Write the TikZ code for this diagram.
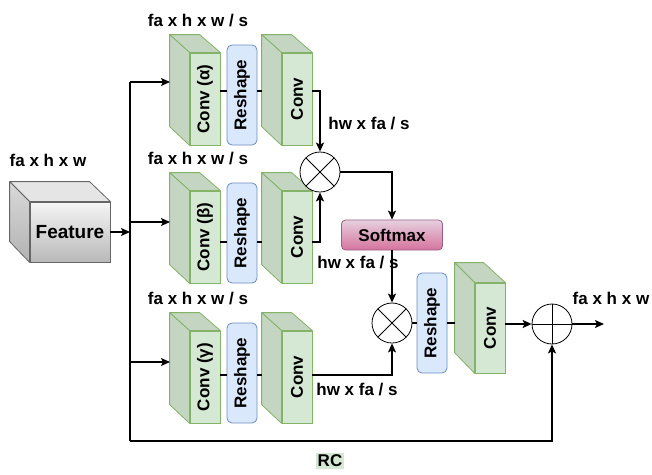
\documentclass[tikz,border=0pt]{standalone}
\usepackage{fontspec}
\setmainfont{Liberation Sans}
\usepackage{graphicx}
\usetikzlibrary{arrows.meta}

\definecolor{convfill}{HTML}{D5E8D4}
\definecolor{convdark}{HTML}{C4D6C2}
\definecolor{convline}{HTML}{82B366}
\definecolor{reshfill}{HTML}{DAE8FC}
\definecolor{reshline}{HTML}{6C8EBF}
\definecolor{smtop}{HTML}{E6D0DE}
\definecolor{smbot}{HTML}{D5739D}
\definecolor{smline}{HTML}{996185}
\definecolor{featline}{HTML}{666666}

\begin{document}
\begin{tikzpicture}[x=1pt,y=-1pt,
    every node/.style={font=\fontsize{17}{20}\selectfont\bfseries},
    arr/.style={-{Stealth[length=9pt,width=8pt,inset=2pt]},line width=1.3pt},
    link/.style={line width=1.3pt},
    convfront/.style={draw=convline,fill=convfill,line width=0.8pt,minimum width=30pt,minimum height=92pt,inner sep=0pt},
    convside/.style={draw=convline,fill=convdark,line width=0.8pt,line join=round},
    reshape/.style={draw=reshline,fill=reshfill,rounded corners=5pt,line width=0.8pt,minimum width=30pt,minimum height=100pt,inner sep=0pt},
    softbox/.style={draw=smline,top color=smtop,bottom color=smbot,rounded corners=4pt,line width=0.8pt,minimum width=101pt,minimum height=30pt},
    featbox/.style={draw=featline,top color=gray!8,bottom color=gray!55,line width=0.8pt,minimum width=80pt,minimum height=60pt,font=\fontsize{19}{22}\selectfont\bfseries},
    featside/.style={draw=featline,line width=0.8pt,line join=round},
    mult/.style={circle,draw,fill=white,line width=0.8pt,minimum size=40pt,inner sep=0pt,
      path picture={\draw[line width=0.8pt] (path picture bounding box.north west) -- (path picture bounding box.south east)
        (path picture bounding box.north east) -- (path picture bounding box.south west);}},
    addc/.style={circle,draw,fill=white,line width=0.8pt,minimum size=40pt,inner sep=0pt,
      path picture={\draw[line width=0.8pt] (path picture bounding box.north) -- (path picture bounding box.south)
        (path picture bounding box.west) -- (path picture bounding box.east);}}]

\useasboundingbox (0,0) rectangle (652,474);

% input feature
\node[featbox] (feat) at (70,232) {Feature};
\draw[featside,fill=gray!20] (feat.north west) -- ++(-20,-20) -- ++(80,0) -- (feat.north east) -- cycle;
\draw[featside,top color=gray!30,bottom color=gray!60] (feat.north west) -- ++(-20,-20) -- ++(0,60) -- (feat.south west) -- cycle;
\node at (48,160) {fa x h x w};
\coordinate (spf) at (130,232);
\draw[arr] (feat.east) -- (spf);

% three branches
\foreach \b/\t/\a/\l/\g in {a/35/82/91/α,b/173/222/242/β,c/313/362/375/γ}{
  \coordinate (sp\b) at (130,\a);
  \coordinate (in\b) at (170,\a);
  \coordinate (ln\b) at (0,\l);
  \coordinate (bk\b) at (262,\l);
  \node[convfront] (c1\b) at (205,\t+64) {\rotatebox{90}{Conv (\g)}};
  \draw[convside] (c1\b.north west) -- ++(-20,-18) -- ++(30,0) -- (c1\b.north east) -- cycle;
  \draw[convside] (c1\b.north west) -- ++(-20,-18) -- ++(0,92) -- (c1\b.south west) -- cycle;
  \node[reshape] (rs\b) at (242,\t+60) {\rotatebox{90}{Reshape}};
  \node[convfront] (c2\b) at (297,\t+64) {\rotatebox{90}{Conv}};
  \draw[convside] (c2\b.north west) -- ++(-20,-18) -- ++(30,0) -- (c2\b.north east) -- cycle;
  \draw[convside] (c2\b.north west) -- ++(-20,-18) -- ++(0,92) -- (c2\b.south west) -- cycle;
  \node at (198,\t-14) {fa x h x w / s};
  \draw[arr] (sp\b) -- (in\b);
  \draw[link] (c1\b.east |- ln\b) -- (rs\b.west |- ln\b);
  \draw[link] (rs\b.east |- ln\b) -- (bk\b);
}

% attention
\node[mult] (m1) at (320,172) {};
\node[softbox] (sm) at (392,235) {Softmax};
\node[mult] (m2) at (392,323) {};
\draw[arr] (c2a.east |- lna) -| (m1.north);
\draw[arr] (c2b.east |- lnb) -| (m1.south);
\draw[arr] (m1.east) -| (sm.north);
\draw[arr] (sm.south) -- (m2.north);
\draw[arr] (c2c.east |- lnc) -| (m2.south);
\node at (369,124) {hw x fa / s};
\node at (358,263) {hw x fa / s};
\node at (357,390) {hw x fa / s};

% output
\node[reshape] (rs2) at (432,323) {\rotatebox{90}{Reshape}};
\node[convfront,minimum height=90pt] (c3) at (490,328) {\rotatebox{90}{Conv}};
\draw[convside] (c3.north west) -- ++(-20,-20) -- ++(29,0) -- (c3.north east) -- cycle;
\draw[convside] (c3.north west) -- ++(-20,-20) -- ++(0,90) -- (c3.south west) -- cycle;
\coordinate (bk2) at (455,323);
\draw[link] (m2.east) -- (rs2.west);
\draw[link] (rs2.east) -- (bk2);
\node[addc] (ad) at (552,324) {};
\draw[arr] (c3.east |- ad) -- (ad.west);
\coordinate (out) at (604,324);
\draw[arr] (ad.east) -- (out);
\node at (611,298) {fa x h x w};

% residual connection
\coordinate (rcl) at (130,441);
\draw[link] (spa) -- (rcl);
\draw[arr] (rcl) -| (ad.south);
\node[fill=convfill,inner sep=1.5pt] (rc) at (330,461) {RC};

\end{tikzpicture}
\end{document}
